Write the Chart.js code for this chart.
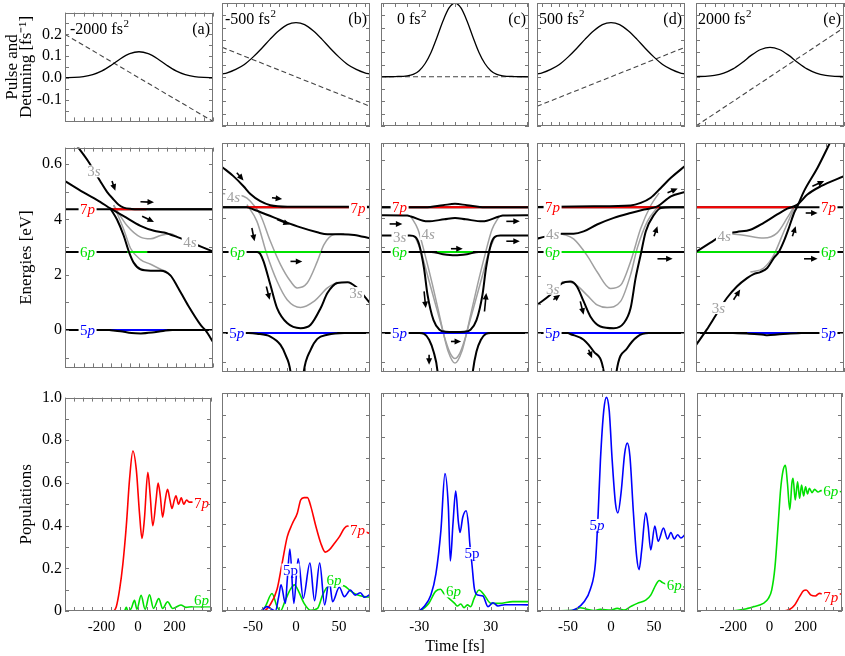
<!DOCTYPE html>
<html>
<head>
<meta charset="utf-8">
<script src="https://cdn.jsdelivr.net/npm/chart.js@4.4.0/dist/chart.umd.min.js"></script>
<style>
  body { margin: 0; background: #fff; }
  #fig { position: relative; width: 845px; height: 656px; overflow: hidden; background: #fff; }
  canvas { position: absolute; }
</style>
</head>
<body>
<div id="fig"></div>
<script>
// ---- axes / ticks ----
const chirpText = ['-2000 fs', '-500 fs', '0 fs', '500 fs', '2000 fs'];
const panelText = ['(a)', '(b)', '(c)', '(d)', '(e)'];
const xMinCol = [-400, -86, -62, -86, -400];
const xMaxCol = [400, 86, 62, 86, 400];
const xMinorStep = [50, 10, 10, 10, 50];
const xLabVals = [[-200, 0, 200], [-50, 0, 50], [-30, 30], [-50, 0, 50], [-200, 0, 200]];
const xLabText = [['-200', '0', '200'], ['-50', '0', '50'], ['-30', '30'], ['-50', '0', '50'], ['-200', '0', '200']];
const yMinRow = [-0.2, -1.35, 0];
const yMaxRow = [0.3, 6.6, 1];
const yMinorStep = [0.05, 1, 0.1];
const yLabVals = [[-0.1, 0, 0.1, 0.2], [0, 2, 4, 6], [0, 0.2, 0.4, 0.6, 0.8, 1]];
const yLabText = [['-0.1', '0.0', '0.1', '0.2'], ['0', '2', '4', '0.6'], ['0', '0.2', '0.4', '0.6', '0.8', '1.0']];

// ---- top row: pulse and detuning ----
const pulseTimeWide = [-400, -350, -300, -250, -200, -150, -100, -50, 0, 50, 100, 150, 200, 250, 300, 350, 400];
const pulseValWide = [0.001, 0.002, 0.006, 0.015, 0.032, 0.058, 0.088, 0.111, 0.120, 0.111, 0.088, 0.058, 0.032, 0.015, 0.006, 0.002, 0.001];
const pulseTimeMid = [-86, -80, -70, -60, -50, -40, -30, -20, -10, 0, 10, 20, 30, 40, 50, 60, 70, 80, 86];
const pulseValMid = [0.011, 0.016, 0.030, 0.050, 0.080, 0.115, 0.153, 0.187, 0.212, 0.220, 0.212, 0.187, 0.153, 0.115, 0.080, 0.050, 0.030, 0.016, 0.011];
const pulseTimeC = [-62, -50, -40, -35, -30, -25, -20, -15, -10, -5, 0, 5, 10, 15, 20, 25, 30, 35, 40, 50, 62];
const pulseValC = [0, 0.001, 0.004, 0.010, 0.025, 0.054, 0.100, 0.162, 0.228, 0.280, 0.300, 0.280, 0.228, 0.162, 0.100, 0.054, 0.025, 0.010, 0.004, 0.001, 0];
const detA = [[-400, 0.2], [400, -0.2]];
const detB = [[-86, 0.12], [86, -0.12]];
const detC = [[-62, 0], [62, 0]];
const detD = [[-86, -0.12], [86, 0.12]];
const detE = [[-400, -0.2], [400, 0.2]];

// ---- middle row: energies [eV] ----
const levelE = [4.37, 2.82, 0];          // 7p, 6p, 5p
const segA = [[-150, 40], [-64, 45], [-155, 153]];
const segB = [[-57, 62], [-57, 29], [-57, 48]];
const segC = [[-42, 62], [-15, 15], [-42, 28]];
const segD = [[-59, 56], [-59, 36], [-59, 50]];
const segE = [[-400, 130], [-400, 39], [-124, 148]];

const enA_s1 = [[-336, 6.67], [-273, 6.09], [-210, 5.39], [-173, 5.0], [-137, 4.72], [-110, 4.53], [-83, 4.43], [-40, 4.38], [0, 4.37], [400, 4.37]];
const enA_s3 = [[-400, 5.39], [-300, 4.98], [-210, 4.64], [-155, 4.40], [-83, 4.12], [8, 3.77], [81, 3.59], [135, 3.53], [208, 3.36], [335, 3.02], [400, 2.84]];
const enA_s4 = [[-155, 4.40], [-119, 4.0], [-83, 3.42], [-55, 2.84], [-28, 2.43], [8, 2.20], [63, 2.15], [117, 2.15], [171, 1.97], [208, 1.57], [262, 0.93], [335, 0.17], [362, -0.03], [400, -0.43]];
const enA_g1 = [[-137, 4.52], [-64, 3.77], [8, 3.36], [63, 3.30], [117, 3.42], [171, 3.48], [208, 3.37]];
const enA_g2 = [[-137, 4.52], [-83, 3.65], [-46, 2.96], [8, 2.55], [63, 2.38], [117, 2.20], [153, 2.09], [171, 1.98]];
const enA_dip = [[-160, 0], [-100, -0.04], [-40, -0.11], [10, -0.12], [70, -0.09], [130, -0.03], [180, 0]];
const arrowsA = [[-146, 5.39, -128, 5.04], [8, 4.64, 81, 4.62], [17, 4.12, 81, 3.91]];
const tagsA = [['3s', 'g', -244, 5.74], ['7p', 'r', -278, 4.37], ['4s', 'g', 275, 3.17], ['6p', 'G', -278, 2.82], ['5p', 'b', -278, 0]];

const enB_top = [[-86, 5.77], [-72.8, 5.45], [-61, 5.10], [-53, 4.83], [-41.5, 4.58], [-29.8, 4.44], [-10, 4.39], [86, 4.39]];
const enB_mid = [[-86, 4.37], [-57, 4.37], [-49.3, 4.29], [-33.7, 4.11], [-14.2, 3.88], [5.3, 3.67], [24.8, 3.50], [36.5, 3.43], [52, 3.43], [67.6, 3.41], [86, 3.29]];
const enB_low = [[-86, 2.82], [-45, 2.82], [-41.6, 2.75], [-37.7, 2.49], [-29.8, 1.68], [-22, 0.87], [-10.3, 0.35], [5.3, 0.17], [17, 0.29], [28.7, 0.87], [36.5, 1.39], [48, 1.74], [60, 1.77], [70, 1.60], [81, 1.22], [86, 1.04]];
const enB_g4s = [[-86, 4.85], [-61, 4.75], [-53, 4.58], [-41.5, 4.11], [-29.8, 3.19], [-18, 2.38], [-6.4, 1.80], [1.4, 1.57], [13, 1.74], [24.8, 2.49], [32.5, 3.07], [44, 3.42], [56, 3.45]];
const enB_g3s = [[-57, 4.46], [-45.4, 3.88], [-33.7, 2.72], [-22, 1.80], [-10.3, 1.16], [5.3, 0.89], [20.8, 1.10], [36.5, 1.57], [48, 1.77]];
const enB_dipL = [[-86, 0], [-55, 0], [-45.4, -0.02], [-29.8, -0.12], [-18, -0.41], [-12.3, -0.75], [-6.4, -1.34], [-5, -1.8]];
const enB_dipR = [[7.5, -1.8], [9, -1.34], [17, -0.58], [24.8, -0.2], [36.5, -0.06], [56, 0], [86, 0]];
const arrowsB = [[-68.8, 5.57, -61, 5.30], [-27.9, 4.70, -16.1, 4.66], [-22, 3.94, -7.2, 3.77], [-51.3, 3.65, -48.2, 3.19], [-6.4, 2.49, 7.3, 2.49], [-34.5, 1.62, -30.6, 1.16]];
const tagsB = [['4s', 'g', -72.8, 4.72], ['7p', 'r', 72, 4.35], ['6p', 'G', -67.9, 2.82], ['3s', 'g', 69.6, 1.39], ['5p', 'b', -68.8, 0]];

const enC_bump = [[-62, 4.37], [-25, 4.37], [-10, 4.44], [0, 4.49], [10, 4.44], [25, 4.37], [62, 4.37]];
const enC_409 = [[-62, 4.09], [-40, 4.08], [-37, 4.05], [-23, 3.88], [-9, 3.95], [0, 4.0], [9, 3.95], [23, 3.88], [37, 4.05], [40, 4.08], [62, 4.09]];
const enC_U = [[-62, 3.39], [-38, 3.39], [-33, 3.33], [-30, 3.07], [-26, 2.26], [-23, 1.33], [-18, 0.45], [-13, 0.12], [-8, 0.05], [0, 0.04], [8, 0.05], [13, 0.12], [18, 0.45], [23, 1.33], [26, 2.26], [30, 3.07], [33, 3.33], [38, 3.39], [62, 3.39]];
const enC_6p = [[-62, 2.82], [-20, 2.82], [-10, 2.74], [0, 2.70], [10, 2.74], [20, 2.82], [62, 2.82]];
const enC_g1 = [[-37, 4.05], [-31, 3.6], [-25, 2.7], [-19, 1.7], [-14, 0.8], [-10, 0.05], [-6, -0.6], [0, -1.04], [6, -0.6], [10, 0.05], [14, 0.8], [19, 1.7], [25, 2.7], [31, 3.6], [37, 4.05]];
const enC_g2 = [[-34, 3.39], [-29, 2.9], [-23, 2.0], [-17, 1.1], [-12, 0.35], [-8, -0.25], [-4, -0.7], [0, -0.88], [4, -0.7], [8, -0.25], [12, 0.35], [17, 1.1], [23, 2.0], [29, 2.9], [34, 3.39]];
const enC_dipL = [[-62, 0], [-30, 0], [-25.9, -0.03], [-21.7, -0.23], [-18, -0.64], [-14.6, -1.34], [-13.8, -1.8]];
const enC_dipR = [[13.8, -1.8], [14.9, -1.34], [18, -0.64], [21.7, -0.23], [25.9, -0.03], [30, 0], [62, 0]];
const arrowsC = [[-54.8, 3.79, -44.1, 3.79], [-3.4, 2.93, 6.5, 2.93], [43, 3.88, 54.3, 3.88], [43, 3.19, 54.3, 3.19], [-25.9, 1.45, -24.5, 0.87], [24.7, 0.75, 26.2, 1.39], [-3.4, -0.29, 5.1, -0.29], [-21.7, -0.75, -21.7, -1.1]];
const tagsC = [['7p', 'r', -46.4, 4.37], ['3s', 'g', -46.4, 3.33], ['4s', 'g', -22.4, 3.44], ['6p', 'G', -46.4, 2.82], ['5p', 'b', -46.4, 0]];

const enD_top = [[-86, 4.38], [-20, 4.40], [22.8, 4.43], [34.5, 4.52], [46.2, 4.70], [57.9, 5.04], [69.6, 5.39], [86, 5.80]];
const enD_4s = [[-86, 3.28], [-76.6, 3.35], [-57.2, 3.45], [-43.5, 3.45], [-31.8, 3.53], [-16.2, 3.77], [3.3, 4.0], [22.8, 4.17], [38.4, 4.29], [54, 4.40], [69.6, 4.75], [86, 4.90]];
const enD_low = [[-86, 0.98], [-70.8, 1.32], [-57.2, 1.73], [-47.4, 1.79], [-39.6, 1.62], [-31.8, 1.10], [-24, 0.58], [-12.3, 0.23], [3.3, 0.17], [15, 0.35], [22.8, 0.87], [28.6, 1.91], [34.5, 2.72], [40.4, 3.53], [50.1, 4.11], [57.9, 4.34], [70, 4.37], [86, 4.37]];
const enD_g4s = [[-57.2, 3.45], [-43.5, 3.27], [-27.9, 2.70], [-16.2, 2.13], [-0.6, 1.55], [11.1, 1.66], [22.8, 2.49], [34.5, 3.63], [46.2, 4.43], [55.9, 4.87]];
const enD_g3s = [[-57.2, 1.79], [-43.5, 1.73], [-27.9, 1.32], [-16.2, 0.98], [-4.5, 0.89], [11.1, 1.10], [22.8, 2.03], [30.6, 2.96], [42.3, 3.88], [54, 4.37]];
const enD_dipL = [[-86, 0], [-50, 0], [-47.4, -0.03], [-31.8, -0.23], [-20.1, -0.64], [-8.4, -1.34], [-7, -1.8]];
const enD_dipR = [[5, -1.8], [6.4, -1.34], [19, -0.52], [30.7, -0.12], [44, 0], [86, 0]];
const arrowsD = [[-67, 1.16, -59, 1.33], [-35.7, 1.10, -31.8, 0.64], [50, 3.36, 54, 3.71], [54, 2.58, 71.6, 2.58], [65.7, 4.87, 77.5, 5.02], [-26, -0.58, -22, -0.87]];
const tagsD = [['7p', 'r', -67.9, 4.37], ['4s', 'g', -67.9, 3.44], ['6p', 'G', -67.9, 2.82], ['3s', 'g', -67.9, 1.54], ['5p', 'b', -67.9, 0]];

const enE_steep = [[-405, -0.46], [-342, 0.12], [-293, 0.62], [-233, 1.22], [-179, 1.62], [-124, 1.91], [-88, 2.05], [-52, 2.12], [-15, 2.26], [21, 2.61], [48, 2.82], [75, 3.19], [102, 3.65], [130, 4.17], [148, 4.40], [184, 4.93], [257, 5.74], [329, 6.67]];
const enE_mod = [[-400, 2.82], [-324, 3.13], [-251, 3.42], [-179, 3.51], [-106, 3.59], [-34, 3.83], [39, 4.12], [93, 4.32], [148, 4.46], [202, 4.81], [275, 5.10], [400, 5.45]];
const enE_g1 = [[-215, 3.45], [-142, 3.40], [-34, 3.30], [39, 3.48], [93, 4.0], [130, 4.40]];
const enE_g2 = [[-106, 2.12], [-34, 2.26], [21, 2.72], [75, 3.53], [130, 4.34]];
const enE_dip = [[-200, 0], [-124, -0.01], [-34, -0.06], [-15, -0.07], [39, -0.05], [112, -0.01], [170, 0]];
const arrowsE = [[229, 5.10, 293, 5.28], [193, 4.17, 257, 4.17], [121, 3.36, 139, 3.71], [184, 2.58, 257, 2.58], [-197, 1.16, -161, 1.51]];
const tagsE = [['7p', 'r', 316, 4.37], ['6p', 'G', 316, 2.82], ['5p', 'b', 316, 0], ['4s', 'g', -248, 3.36], ['3s', 'g', -279, 0.87]];

// ---- bottom row: populations ----
const popA_7p = [[-400, 0], [-137, 0], [-119, 0.02], [-101, 0.10], [-83, 0.22], [-64, 0.40], [-46, 0.62], [-28, 0.75], [-9, 0.66], [8, 0.46], [22, 0.34], [35, 0.43], [54, 0.65], [66, 0.55], [81, 0.40], [99, 0.52], [110, 0.60], [122, 0.54], [135, 0.44], [149, 0.52], [162, 0.57], [175, 0.52], [186, 0.48], [199, 0.52], [208, 0.54], [222, 0.50], [237, 0.53], [251, 0.50], [266, 0.52], [280, 0.51], [298, 0.51], [400, 0.51]];
const popA_6p = [[-400, 0], [-75, 0], [-64, 0.017], [-55, 0], [-37, 0.012], [-19, 0.05], [-6, 0.008], [17, 0.073], [39, 0.008], [63, 0.076], [85, 0.012], [114, 0.058], [135, 0.012], [162, 0.043], [190, 0.012], [235, 0.028], [262, 0.017], [298, 0.02], [400, 0.02]];
const popB_7p = [[-86, 0], [-38, 0], [-29.8, 0.03], [-22, 0.10], [-16.1, 0.22], [-10.2, 0.34], [-4.3, 0.40], [1.6, 0.45], [5.5, 0.51], [9.4, 0.52], [13.3, 0.52], [17.2, 0.48], [23, 0.39], [28.9, 0.31], [34, 0.27], [38.6, 0.28], [44.5, 0.31], [50.3, 0.34], [56.2, 0.38], [60.1, 0.39], [70, 0.38], [82.7, 0.36], [86, 0.355]];
const popB_5p = [[-86, 0], [-41.6, 0], [-33.7, 0.02], [-29.8, 0.012], [-24, 0], [-20.1, 0.066], [-17.4, 0.12], [-12.3, 0.035], [-10.2, 0.14], [-7.1, 0.284], [-2.5, 0.035], [2.5, 0.24], [8.4, 0.058], [16.2, 0.22], [21.6, 0.047], [27.5, 0.22], [33.3, 0.028], [38.6, 0.142], [42.5, 0.043], [50.3, 0.109], [56.2, 0.066], [63.2, 0.096], [68.7, 0.073], [74.9, 0.084], [79.6, 0.063], [86, 0.076]];
const popB_6p = [[-86, 0], [-41.6, 0], [-35.7, 0.02], [-27.9, 0.08], [-22, 0.02], [-18.1, 0], [-12.3, 0.05], [-6.4, 0.10], [-1.8, 0.12], [3.3, 0.088], [9.4, 0.035], [17.2, 0.003], [25, 0.012], [30.9, 0.073], [36, 0.109], [45, 0.12], [56.2, 0.115], [64, 0.09], [71.8, 0.073], [79.6, 0.066], [86, 0.063]];
const popC_5p = [[-62, 0], [-31.5, 0], [-25.9, 0.02], [-20.2, 0.073], [-16, 0.17], [-11.8, 0.37], [-8.4, 0.63], [-5.6, 0.48], [-3.9, 0.23], [-1.7, 0.40], [0.6, 0.55], [2.8, 0.41], [4.2, 0.36], [6.5, 0.43], [9.3, 0.46], [11.2, 0.40], [12.4, 0.31], [14.1, 0.22], [16.3, 0.10], [19.1, 0.073], [23.4, 0.069], [27.6, 0.02], [31.8, 0.038], [36, 0.023], [41.7, 0.029], [62, 0.028]];
const popC_6p = [[-62, 0], [-31.5, 0], [-22, 0.035], [-16.3, 0.09], [-12.1, 0.10], [-9.3, 0.08], [-0.3, 0.035], [2, 0.023], [4.8, 0.032], [7.6, 0.015], [10.4, 0.028], [13.2, 0.02], [16, 0.058], [20.2, 0.096], [24.5, 0.073], [30.1, 0.035], [37.1, 0.035], [48.4, 0.043], [62, 0.043]];
const popD_5p = [[-86, 0], [-51.3, 0], [-39.6, 0.012], [-31.8, 0.04], [-24, 0.10], [-18.1, 0.22], [-15, 0.44], [-12.3, 0.69], [-8.4, 0.92], [-5.3, 0.98], [-2.1, 0.92], [1.4, 0.69], [5.3, 0.49], [8, 0.45], [11.9, 0.55], [15.8, 0.72], [18.9, 0.77], [22, 0.71], [25.9, 0.46], [29.8, 0.25], [32.6, 0.19], [35.7, 0.28], [40.4, 0.45], [43.1, 0.39], [46.2, 0.28], [50.9, 0.39], [54.8, 0.32], [61, 0.38], [65.7, 0.33], [69.6, 0.36], [73.5, 0.33], [77.4, 0.35], [81.3, 0.335], [86, 0.35]];
const popD_6p = [[-86, 0], [-43.5, 0.003], [-35.7, 0.015], [-27.9, 0.008], [-20.1, 0.002], [-12.3, 0.008], [-0.6, 0.004], [7.2, 0.012], [15, 0.004], [22.8, 0.02], [30.6, 0.035], [40.4, 0.05], [46.2, 0.073], [52.1, 0.12], [56, 0.14], [59.9, 0.13], [70, 0.115], [86, 0.11]];
const popE_6p = [[-400, 0], [-215, 0], [-142, 0.008], [-88, 0.02], [-34, 0.035], [-6, 0.058], [12, 0.096], [30, 0.20], [48, 0.40], [61, 0.555], [75, 0.645], [88, 0.668], [99, 0.586], [112, 0.465], [124, 0.59], [130, 0.609], [142, 0.509], [155, 0.593], [166, 0.517], [177, 0.578], [188, 0.528], [199, 0.570], [210, 0.537], [220, 0.563], [235, 0.543], [249, 0.558], [268, 0.546], [284, 0.552], [400, 0.547]];
const popE_7p = [[-400, 0], [75, 0], [112, 0.008], [139, 0.028], [166, 0.066], [188, 0.093], [202, 0.096], [229, 0.073], [253, 0.069], [275, 0.081], [300, 0.078], [400, 0.078]];
const popTagsA = [['7p', 'r', 348, 0.506], ['6p', 'G', 348, 0.05]];
const popTagsB = [['7p', 'r', 71.6, 0.37], ['5p', 'b', -6.4, 0.19, true], ['6p', 'G', 44.2, 0.14]];
const popTagsC = [['5p', 'b', 14.2, 0.265, true], ['6p', 'G', -1.3, 0.09]];
const popTagsD = [['5p', 'b', -16.2, 0.395], ['6p', 'G', 73.5, 0.12]];
const popTagsE = [['6p', 'G', 338, 0.55], ['7p', 'r', 338, 0.066]];

// ---- layout ----
const colLeft = [65, 222, 381, 537, 696];
const colW = 148;
const rowTop = [3, 143, 393];
const rowH = [123, 229, 218];
const COLORS = { r: '#ff0000', G: '#00e000', b: '#0000ff', g: '#a0a0a0', k: '#000000' };
const SERIF = '"Liberation Serif", "Times New Roman", serif';

Chart.defaults.font.family = SERIF;
Chart.defaults.color = '#000';

const fig = document.getElementById('fig');

function pts(arr) { return arr.map(p => ({ x: p[0], y: p[1] })); }
function line(arr, color, width, extra) {
  return Object.assign({
    data: pts(arr), borderColor: color, borderWidth: width, pointRadius: 0,
    fill: false, cubicInterpolationMode: 'monotone', order: 1
  }, extra || {});
}
function steps(min, max, step) {
  const out = [];
  for (let v = Math.ceil(min / step - 1e-9) * step; v <= max + 1e-9; v += step) out.push(Math.round(v * 1000) / 1000);
  return out;
}
function lookup(vals, texts, v) {
  for (let i = 0; i < vals.length; i++) if (Math.abs(vals[i] - v) < 1e-6) return texts[i];
  return '';
}

function drawArrow(ctx, x1, y1, x2, y2) {
  const a = Math.atan2(y2 - y1, x2 - x1), h = 6.5, w = 3;
  const c = Math.cos(a), s = Math.sin(a);
  ctx.beginPath();
  ctx.moveTo(x1, y1);
  ctx.lineTo(x2 - h * 0.7 * c, y2 - h * 0.7 * s);
  ctx.lineWidth = 1.6;
  ctx.stroke();
  ctx.beginPath();
  ctx.moveTo(x2, y2);
  ctx.lineTo(x2 - h * c + w * s, y2 - h * s - w * c);
  ctx.lineTo(x2 - h * c - w * s, y2 - h * s + w * c);
  ctx.closePath();
  ctx.fill();
}

function drawTag(ctx, x, y, text, color, upright) {
  const m = text.match(/^(\d*)(.*)$/);
  const f1 = '15px ' + SERIF;
  const f2 = (upright ? '' : 'italic ') + '15px ' + SERIF;
  ctx.font = f1; const w1 = ctx.measureText(m[1]).width;
  ctx.font = f2; const w2 = ctx.measureText(m[2]).width;
  const w = w1 + w2;
  ctx.fillStyle = '#fff';
  ctx.fillRect(x - w / 2 - 1.5, y - 6, w + 3, 12);
  ctx.fillStyle = color;
  ctx.textBaseline = 'alphabetic';
  ctx.textAlign = 'left';
  ctx.font = f1; ctx.fillText(m[1], x - w / 2, y + 5);
  ctx.font = f2; ctx.fillText(m[2], x - w / 2 + w1, y + 5);
}

function decorPlugin(d) {
  return {
    id: 'decor',
    afterDatasetsDraw(chart) {
      const { ctx, chartArea: a, scales: { x, y } } = chart;
      ctx.save();
      ctx.strokeStyle = '#000';
      ctx.fillStyle = '#000';
      (d.arrows || []).forEach(r => drawArrow(ctx,
        x.getPixelForValue(r[0]), y.getPixelForValue(r[1]),
        x.getPixelForValue(r[2]), y.getPixelForValue(r[3])));
      (d.tags || []).forEach(g => drawTag(ctx, x.getPixelForValue(g[2]), y.getPixelForValue(g[3]), g[0], COLORS[g[1]], g[4]));
      if (d.chirp) {
        ctx.fillStyle = '#000';
        ctx.textBaseline = 'alphabetic';
        ctx.textAlign = 'left';
        ctx.font = '16px ' + SERIF;
        const bx = a.left + d.chirpDx, by = a.top + 21;
        ctx.fillText(d.chirp, bx, by);
        const w = ctx.measureText(d.chirp).width;
        ctx.font = '11px ' + SERIF;
        ctx.fillText('2', bx + w + 0.5, by - 7);
        ctx.font = '16px ' + SERIF;
        ctx.textAlign = 'right';
        ctx.fillText(d.letter, a.right - 3, by);
      }
      // frame with inward ticks on all sides
      ctx.strokeStyle = '#777';
      ctx.lineWidth = 1;
      ctx.strokeRect(Math.round(a.left) + 0.5, Math.round(a.top) + 0.5, Math.round(a.width) - 1, Math.round(a.height) - 1);
      ctx.beginPath();
      x.ticks.forEach(t => {
        const px = Math.round(x.getPixelForValue(t.value)) + 0.5;
        ctx.moveTo(px, a.top); ctx.lineTo(px, a.top + 4);
        ctx.moveTo(px, a.bottom); ctx.lineTo(px, a.bottom - 4);
      });
      y.ticks.forEach(t => {
        const py = Math.round(y.getPixelForValue(t.value)) + 0.5;
        ctx.moveTo(a.left, py); ctx.lineTo(a.left + 4, py);
        ctx.moveTo(a.right, py); ctx.lineTo(a.right - 4, py);
      });
      ctx.stroke();
      ctx.restore();
    }
  };
}

function yTitle(row) {
  if (row === 0) return { display: true, text: ['Pulse and', 'Detuning [fs\u207B\u00B9]'], font: { size: 17, lineHeight: 0.85 }, padding: { top: 5, bottom: 0 }, color: '#000' };
  if (row === 1) return { display: true, text: 'Energies [eV]', font: { size: 17 }, padding: { top: 16, bottom: 0 }, color: '#000' };
  return { display: true, text: 'Populations', font: { size: 17 }, padding: { top: 16, bottom: 0 }, color: '#000' };
}

function makePanel(col, row, datasets, decor) {
  const mL = col === 0 ? colLeft[0] : 6;
  const mR = 5;
  const mT = row === 0 ? rowTop[0] : 8;
  const mB = row === 2 ? 656 - (rowTop[2] + rowH[2]) : 8;
  const w = colW + mL + mR, h = rowH[row] + mT + mB;
  const cv = document.createElement('canvas');
  cv.width = w; cv.height = h;
  cv.style.left = (colLeft[col] - mL) + 'px';
  cv.style.top = (rowTop[row] - mT) + 'px';
  cv.style.width = w + 'px';
  cv.style.height = h + 'px';
  fig.appendChild(cv);

  new Chart(cv, {
    type: 'line',
    data: { datasets },
    options: {
      responsive: false,
      animation: false,
      events: [],
      layout: { padding: { left: 0, right: mR, top: mT, bottom: 0 }, autoPadding: false },
      plugins: { legend: { display: false }, tooltip: { enabled: false } },
      scales: {
        x: {
          type: 'linear', position: 'bottom', min: xMinCol[col], max: xMaxCol[col],
          grid: { display: false, drawTicks: false }, border: { display: false },
          ticks: {
            display: row === 2, padding: 7, autoSkip: false, maxRotation: 0,
            font: { size: 15 }, color: '#000',
            callback: v => lookup(xLabVals[col], xLabText[col], v)
          },
          afterBuildTicks: s => { s.ticks = steps(xMinCol[col], xMaxCol[col], xMinorStep[col]).map(v => ({ value: v })); },
          afterFit: s => { s.height = mB; },
          title: (row === 2 && col === 2)
            ? { display: true, text: 'Time [fs]', font: { size: 16 }, padding: { top: 0, bottom: 0 }, color: '#000' }
            : { display: false }
        },
        y: {
          type: 'linear', position: 'left', min: yMinRow[row], max: yMaxRow[row],
          grid: { display: false, drawTicks: false }, border: { display: false },
          ticks: {
            display: col === 0, padding: 3, autoSkip: false,
            font: { size: 16 }, color: '#000',
            callback: v => lookup(yLabVals[row], yLabText[row], v)
          },
          afterBuildTicks: s => { s.ticks = steps(yMinRow[row], yMaxRow[row], yMinorStep[row]).map(v => ({ value: v })); },
          afterFit: s => { s.width = mL; },
          title: col === 0 ? yTitle(row) : { display: false }
        }
      }
    },
    plugins: [decorPlugin(decor)]
  });
}

// ---- build panels ----
function zipPulse(ts, vs) { return ts.map((t, i) => [t, vs[i]]); }
const pulseSets = [
  [zipPulse(pulseTimeWide, pulseValWide), detA],
  [zipPulse(pulseTimeMid, pulseValMid), detB],
  [zipPulse(pulseTimeC, pulseValC), detC],
  [zipPulse(pulseTimeMid, pulseValMid), detD],
  [zipPulse(pulseTimeWide, pulseValWide), detE]
];
const chirpDx = [5, 3, 16, 2, 2];
pulseSets.forEach((p, col) => {
  makePanel(col, 0, [
    line(p[0], '#000', 1.3),
    line(p[1], '#444', 1.1, { borderDash: [5, 3], cubicInterpolationMode: 'default', tension: 0 })
  ], { chirp: chirpText[col], chirpDx: chirpDx[col], letter: panelText[col] });
});

function energySets(col, segs, black, grays) {
  const ds = [];
  const lvColors = [COLORS.r, COLORS.G, COLORS.b];
  levelE.forEach((E, i) => {
    ds.push(line([[xMinCol[col], E], [xMaxCol[col], E]], '#000', 2, { order: 3, tension: 0, cubicInterpolationMode: 'default' }));
    ds.push(line([[segs[i][0], E], [segs[i][1], E]], lvColors[i], 2, { order: 2, tension: 0, cubicInterpolationMode: 'default' }));
  });
  black.forEach(c => ds.push(line(c, '#000', 2, { order: 1 })));
  grays.forEach(c => ds.push(line(c, COLORS.g, 1.5, { order: 4 })));
  return ds;
}
makePanel(0, 1, energySets(0, segA, [enA_s1, enA_s3, enA_s4, enA_dip], [enA_g1, enA_g2]), { arrows: arrowsA, tags: tagsA });
makePanel(1, 1, energySets(1, segB, [enB_top, enB_mid, enB_low, enB_dipL, enB_dipR], [enB_g4s, enB_g3s]), { arrows: arrowsB, tags: tagsB });
makePanel(2, 1, energySets(2, segC, [enC_bump, enC_409, enC_U, enC_6p, enC_dipL, enC_dipR], [enC_g1, enC_g2]), { arrows: arrowsC, tags: tagsC });
makePanel(3, 1, energySets(3, segD, [enD_top, enD_4s, enD_low, enD_dipL, enD_dipR], [enD_g4s, enD_g3s]), { arrows: arrowsD, tags: tagsD });
makePanel(4, 1, energySets(4, segE, [enE_steep, enE_mod, enE_dip], [enE_g1, enE_g2]), { arrows: arrowsE, tags: tagsE });

makePanel(0, 2, [line(popA_7p, COLORS.r, 1.6), line(popA_6p, COLORS.G, 1.6)], { tags: popTagsA });
makePanel(1, 2, [line(popB_5p, COLORS.b, 1.6), line(popB_7p, COLORS.r, 1.6), line(popB_6p, COLORS.G, 1.6)], { tags: popTagsB });
makePanel(2, 2, [line(popC_5p, COLORS.b, 1.6), line(popC_6p, COLORS.G, 1.6)], { tags: popTagsC });
makePanel(3, 2, [line(popD_5p, COLORS.b, 1.6), line(popD_6p, COLORS.G, 1.6)], { tags: popTagsD });
makePanel(4, 2, [line(popE_6p, COLORS.G, 1.6), line(popE_7p, COLORS.r, 1.6)], { tags: popTagsE });
</script>
</body>
</html>
